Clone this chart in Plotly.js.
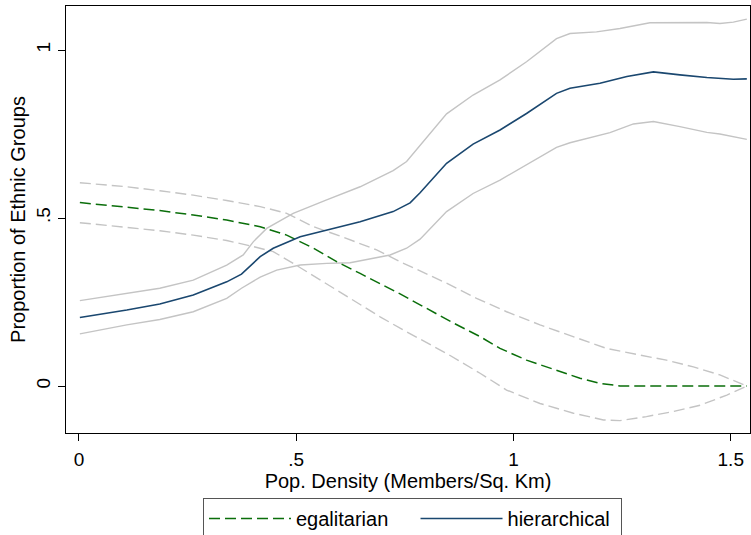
<!DOCTYPE html>
<html>
<head>
<meta charset="utf-8">
<script src="https://cdn.plot.ly/plotly-3.0.1.min.js"></script>
<style>html,body{margin:0;padding:0;background:#fff;}#chart{width:751px;height:535px;}</style>
</head>
<body>
<div id="chart"></div>
<script>
// Egalitarian mean and 95% CI (dashed)
const egalX = [0.002,0.110,0.186,0.263,0.340,0.417,0.478,0.540,0.593,0.647,0.708,0.739,0.800,0.861,0.923,0.969,1.030,1.091,1.153,1.199,1.245,1.537];
const egalY = [0.546,0.532,0.522,0.509,0.494,0.474,0.449,0.410,0.370,0.335,0.296,0.274,0.231,0.188,0.147,0.112,0.077,0.050,0.023,0.008,0.000,0.000];
const egalHiX = [0.002,0.110,0.186,0.263,0.340,0.417,0.478,0.540,0.608,0.685,0.739,0.846,0.915,0.984,1.061,1.138,1.214,1.291,1.352,1.414,1.475,1.537];
const egalHiY = [0.605,0.593,0.581,0.568,0.552,0.534,0.514,0.474,0.443,0.405,0.370,0.306,0.261,0.221,0.182,0.147,0.112,0.092,0.077,0.057,0.033,0.000];
const egalLoX = [0.002,0.110,0.186,0.263,0.340,0.401,0.447,0.493,0.555,0.616,0.693,0.739,0.846,0.923,0.984,1.061,1.138,1.207,1.245,1.306,1.368,1.430,1.491,1.537];
const egalLoY = [0.486,0.472,0.462,0.449,0.433,0.415,0.400,0.365,0.315,0.266,0.206,0.172,0.097,0.038,-0.012,-0.052,-0.081,-0.101,-0.103,-0.091,-0.076,-0.057,-0.027,0.000];

// Hierarchical mean and 95% CI (solid)
const hierX = [0.002,0.110,0.186,0.263,0.340,0.374,0.417,0.447,0.509,0.570,0.647,0.723,0.762,0.785,0.846,0.907,0.969,1.030,1.099,1.130,1.199,1.261,1.322,1.383,1.445,1.506,1.537];
const hierY = [0.204,0.226,0.244,0.271,0.310,0.333,0.385,0.410,0.444,0.464,0.489,0.519,0.545,0.575,0.663,0.720,0.762,0.811,0.871,0.886,0.901,0.921,0.935,0.926,0.918,0.913,0.914];
const hierHiX = [0.002,0.110,0.186,0.263,0.340,0.378,0.401,0.432,0.493,0.570,0.647,0.723,0.754,0.846,0.907,0.969,1.030,1.099,1.130,1.191,1.245,1.314,1.383,1.445,1.475,1.506,1.537];
const hierHiY = [0.254,0.276,0.291,0.315,0.360,0.390,0.429,0.469,0.514,0.554,0.593,0.641,0.668,0.810,0.866,0.911,0.965,1.034,1.049,1.054,1.064,1.081,1.081,1.082,1.079,1.083,1.092];
const hierLoX = [0.002,0.110,0.186,0.263,0.340,0.374,0.417,0.455,0.509,0.570,0.624,0.716,0.754,0.785,0.846,0.907,0.969,1.030,1.099,1.130,1.222,1.276,1.322,1.383,1.445,1.475,1.537];
const hierLoY = [0.155,0.182,0.198,0.221,0.261,0.291,0.324,0.345,0.360,0.365,0.367,0.390,0.410,0.437,0.519,0.573,0.613,0.658,0.710,0.724,0.754,0.780,0.787,0.772,0.755,0.750,0.734];

const xTickVals = [0, 0.5, 1, 1.5];
const xTickText = ['0', '.5', '1', '1.5'];
const yTickVals = [0, 0.5, 1];
const yTickText = ['0', '.5', '1'];
const seriesNames = ['egalitarian\u00a0\u00a0\u00a0\u00a0', 'hierarchical\u00a0'];

const GRAY = '#c4c4c4';
const GREEN = '#0a6e0a';
const NAVY = '#1a476f';
const FONT = 'Liberation Sans, Arial, sans-serif';

const traces = [
  {x: egalHiX, y: egalHiY, mode: 'lines', line: {color: GRAY, width: 1.4, dash: '11px,5px'}, showlegend: false, hoverinfo: 'skip'},
  {x: egalLoX, y: egalLoY, mode: 'lines', line: {color: GRAY, width: 1.4, dash: '11px,5px'}, showlegend: false, hoverinfo: 'skip'},
  {x: hierHiX, y: hierHiY, mode: 'lines', line: {color: GRAY, width: 1.4}, showlegend: false, hoverinfo: 'skip'},
  {x: hierLoX, y: hierLoY, mode: 'lines', line: {color: GRAY, width: 1.4}, showlegend: false, hoverinfo: 'skip'},
  {x: egalX, y: egalY, mode: 'lines', name: seriesNames[0], line: {color: GREEN, width: 1.5, dash: '11px,5px'}},
  {x: hierX, y: hierY, mode: 'lines', name: seriesNames[1], line: {color: NAVY, width: 1.6}}
];

const layout = {
  width: 751, height: 535,
  margin: {l: 66, r: 1, t: 6, b: 102, pad: 0},
  paper_bgcolor: '#fff', plot_bgcolor: '#fff',
  font: {family: FONT, size: 19, color: '#000'},
  xaxis: {
    range: [-0.0299, 1.5443], tickvals: xTickVals, ticktext: xTickText,
    ticks: 'outside', ticklen: 7, tickwidth: 1, tickcolor: '#000',
    showline: true, mirror: true, linecolor: '#000', linewidth: 1.2,
    showgrid: false, zeroline: false, automargin: false,
    tickfont: {size: 19}, ticklabelstandoff: 2,
    title: {text: 'Pop. Density (Members/Sq. Km)', font: {size: 20}, standoff: 2}
  },
  yaxis: {
    range: [-0.1399, 1.131], tickvals: yTickVals, ticktext: yTickText,
    ticks: 'outside', ticklen: 7, tickwidth: 1, tickcolor: '#000', tickangle: -90,
    showline: true, mirror: true, linecolor: '#000', linewidth: 1.2,
    showgrid: false, zeroline: false, automargin: false,
    tickfont: {size: 19},
    title: {text: 'Proportion of Ethnic Groups', font: {size: 20}, standoff: 2}
  },
  legend: {
    orientation: 'h', xref: 'container', yref: 'container',
    x: 203 / 751, xanchor: 'left', y: (535 - 498) / 535, yanchor: 'top',
    bordercolor: '#555', borderwidth: 1, bgcolor: '#fff',
    font: {size: 20}, itemwidth: 82, traceorder: 'normal'
  },
  showlegend: true
};

Plotly.newPlot('chart', traces, layout, {displayModeBar: false, staticPlot: true});
</script>
</body>
</html>
